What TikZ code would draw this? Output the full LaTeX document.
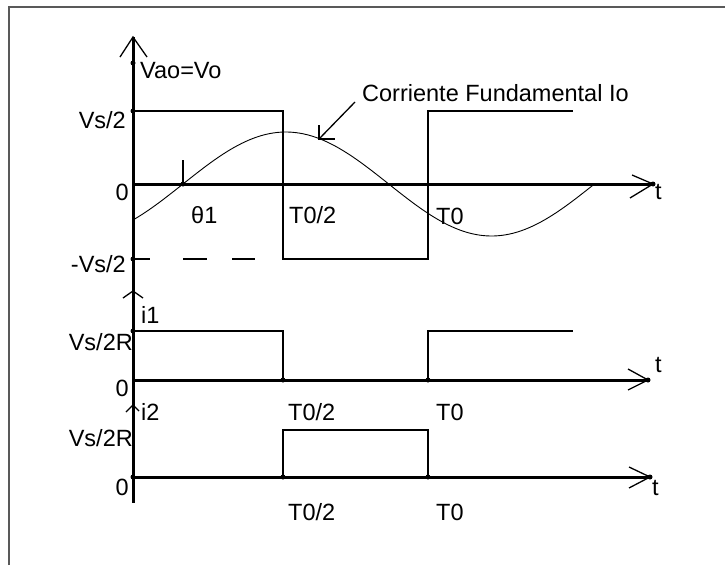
\documentclass[tikz,border=0pt]{standalone}
\usepackage{fontspec}
\setmainfont{Liberation Sans}
\begin{document}
\begin{tikzpicture}[x=1pt,y=-1pt,
  lbl/.style={inner sep=0pt, font=\fontsize{23.5}{27}\selectfont},
  axisline/.style={line width=3pt},
  wave/.style={line width=1.6pt},
  chev/.style={line width=1.3pt},
  curve/.style={line width=0.9pt},
  dotm/.style={circle, fill=black, inner sep=0pt, minimum size=5pt},
  frameline/.style={line width=2.5pt, draw=black!65}]
\useasboundingbox (0,0) rectangle (725,565);
\draw[frameline] (9,565) -- (9,7) -- (725,7);

% ---------- key coordinates ----------
\coordinate (ytop) at (133,37);
\coordinate (ybot) at (133,503);
\coordinate (o1) at (133,184);
\coordinate (t1) at (653,184);
\coordinate (o2) at (133,380);
\coordinate (t2) at (648,380);
\coordinate (o3) at (133,477);
\coordinate (t3) at (650,477);

% ---------- axes ----------
\draw[axisline] (ytop) -- (ybot);
\draw[axisline] (o1) -- (t1);
\draw[axisline] (o2) -- (t2);
\draw[axisline] (o3) -- (t3);

% arrow chevrons
\draw[chev] (120,57) -- (ytop) -- (147,57);
\draw[chev] (632,175) -- (t1) -- (630,198);
\draw[chev] (628,369) -- (t2) -- (628,390);
\draw[chev] (629,467) -- (t3) -- (629,488);
\draw[chev] (123,298) -- (133,291) -- (143,298);
\draw[chev] (126,412) -- (133,405) -- (139,411);

% ---------- top chart: square wave ----------
\draw[wave] (133,111) -- (283,111) -- (283,259) -- (428,259) -- (428,111) -- (573,111);
\draw[wave] (133,259) -- (150,259);
\draw[wave] (183,259) -- (207,259);
\draw[wave] (232,259) -- (255,259);

% fundamental current
\draw[curve] plot[domain=133:595, samples=120, smooth] (\x, {184-52*sin(0.875*(\x-183))});
\draw[chev] (183,160) -- (183,184);
\coordinate (lead) at (319,139);
\draw[chev] (355,102) -- (lead);
\draw[chev] (319,125) -- (lead) -- (335,139);

% ---------- i1 ----------
\draw[wave] (133,331) -- (283,331) -- (283,380);
\draw[wave] (428,380) -- (428,331) -- (573,331);

% ---------- i2 ----------
\draw[wave] (283,477) -- (283,430) -- (428,430) -- (428,477);

% dots
\foreach \p in {(133,63),(133,111),(183,184),(133,259),(133,331),(283,380),(428,380),(133,477),(283,477),(428,477),(653,184),(648,380),(650,477)}
  \node[dotm] at \p {};

% ---------- labels ----------
\node[lbl, anchor=west] (lvao) at (140,71) {Vao=Vo};
\node[lbl, anchor=west] (lcorr) at (362,93) {Corriente Fundamental Io};
\node[lbl, anchor=east] (lvs) at (126,120) {Vs/2};
\node[lbl, anchor=east] (lz1) at (129,192) {0};
\node[lbl, anchor=east] (lmvs) at (126,264) {-Vs/2};
\node[lbl, anchor=west] (lth) at (191,215) {θ1};
\node[lbl, anchor=west] (lt02a) at (289,215) {T0/2};
\node[lbl, anchor=west] (lt0a) at (436,216) {T0};
\node[lbl, anchor=west] (lta) at (655,192) {t};
\node[lbl, anchor=west] (li1) at (141,315) {i1};
\node[lbl, anchor=east] (lvr1) at (133,342) {Vs/2R};
\node[lbl, anchor=east] (lz2) at (129,388) {0};
\node[lbl, anchor=west] (ltb) at (655,365) {t};
\node[lbl, anchor=west] (li2) at (141,412) {i2};
\node[lbl, anchor=west] (lt02b) at (288,412) {T0/2};
\node[lbl, anchor=west] (lt0b) at (436,412) {T0};
\node[lbl, anchor=east] (lvr2) at (133,438) {Vs/2R};
\node[lbl, anchor=east] (lz3) at (129,487) {0};
\node[lbl, anchor=west] (ltc) at (652,488) {t};
\node[lbl, anchor=west] (lt02c) at (288,512) {T0/2};
\node[lbl, anchor=west] (lt0c) at (436,512) {T0};
\end{tikzpicture}
\end{document}
